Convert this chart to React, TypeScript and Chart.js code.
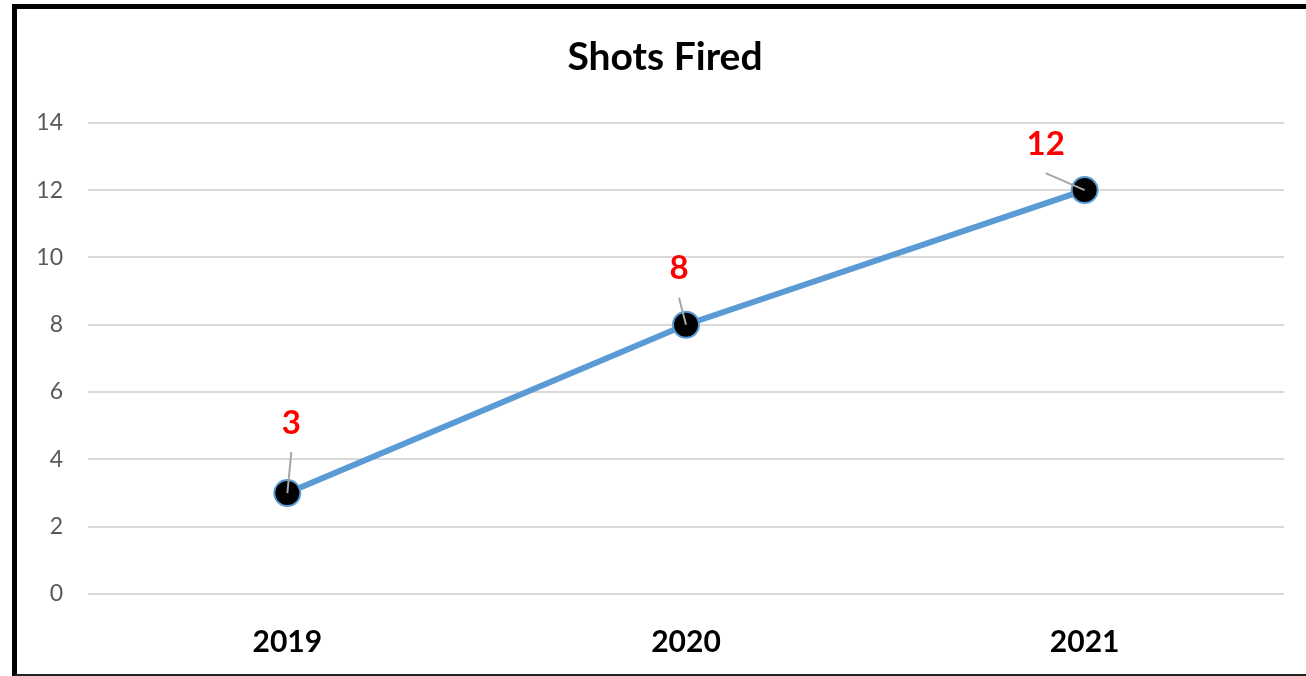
import React, { useEffect, useRef } from "react";
import { Chart, registerables } from "chart.js";

Chart.register(...registerables);

const categories = ["2019", "2020", "2021"];
const shotsFired = [3, 8, 12];
const yTicks = [0, 2, 4, 6, 8, 10, 12, 14];
const chartTitle = "Shots Fired";

// label placement relative to each point (style only)
const labelOffsets = [
  { dx: 4, dy: -70 },
  { dx: -7, dy: -56 },
  { dx: -39, dy: -46 },
];

const FONT = "Lato, 'Noto Sans', sans-serif";

const dataLabelPlugin = {
  id: "leaderLabels",
  afterDatasetsDraw(chart: any) {
    const meta = chart.getDatasetMeta(0);
    const ctx = chart.ctx;
    ctx.save();
    meta.data.forEach((pt: any, i: number) => {
      const off = labelOffsets[i];
      const lx = pt.x + off.dx;
      const ly = pt.y + off.dy;
      ctx.beginPath();
      ctx.strokeStyle = "#a6a6a6";
      ctx.lineWidth = 2;
      ctx.moveTo(lx, ly + 29);
      ctx.lineTo(pt.x, pt.y);
      ctx.stroke();
      ctx.fillStyle = "#ff0000";
      ctx.font = `bold 33px ${FONT}`;
      ctx.textAlign = "center";
      ctx.textBaseline = "middle";
      ctx.fillText(String(shotsFired[i]), lx, ly);
    });
    ctx.restore();
  },
};

export default function App() {
  const ref = useRef<HTMLCanvasElement | null>(null);

  useEffect(() => {
    if (!ref.current) return;
    const chart = new Chart(ref.current, {
      type: "line",
      data: {
        labels: categories,
        datasets: [
          {
            label: chartTitle,
            data: shotsFired,
            borderColor: "#5B9BD5",
            borderWidth: 6,
            pointRadius: 13,
            pointHoverRadius: 13,
            pointBackgroundColor: "#000000",
            pointBorderColor: "#5B9BD5",
            pointBorderWidth: 2,
            tension: 0,
            yAxisID: "y",
          },
        ],
      },
      options: {
        animation: false,
        responsive: true,
        maintainAspectRatio: false,
        layout: { padding: { left: 0, right: -24, top: 0, bottom: 0 } },
        plugins: {
          legend: { display: false },
          tooltip: { enabled: false },
          title: {
            display: true,
            text: chartTitle,
            color: "#000000",
            font: { family: FONT, size: 39, weight: "bold" },
            padding: { top: 34, bottom: 42 },
          },
        },
        scales: {
          x: {
            offset: true,
            grid: { display: false, drawTicks: false },
            border: { display: false },
            ticks: {
              color: "#000000",
              padding: 30,
              font: { family: FONT, size: 30, weight: "bold" },
            },
            afterFit: (scale: any) => {
              scale.height = 82;
            },
          },
          y: {
            min: 0,
            max: 14,
            afterBuildTicks: (scale: any) => {
              scale.ticks = yTicks.map((v) => ({ value: v }));
            },
            grid: { color: "#d9d9d9", lineWidth: 2, drawTicks: false },
            border: { display: false },
            ticks: {
              color: "#595959",
              padding: 25,
              font: { family: FONT, size: 23 },
            },
            afterFit: (scale: any) => {
              scale.width = 88;
            },
          },
          yRight: {
            type: "linear",
            position: "right",
            min: 0,
            max: 14,
            grid: { display: false, drawTicks: false },
            border: { display: false },
            ticks: { display: false },
            afterFit: (scale: any) => {
              scale.width = 46;
            },
          },
        },
      },
      plugins: [dataLabelPlugin],
    });
    return () => chart.destroy();
  }, []);

  return (
    <div>
      <div
        style={{
          position: "fixed",
          left: 0,
          top: 0,
          width: 1306,
          height: 676,
          background: "#ffffff",
        }}
      />
      <div
        style={{
          position: "fixed",
          left: 12,
          top: 4,
          width: 1400,
          height: 672,
          boxSizing: "border-box",
          borderLeft: "5px solid #000",
          borderTop: "5px solid #000",
          borderBottom: "2px solid #222",
        }}
      />
      <div style={{ position: "fixed", left: 0, top: 0, width: 1306, height: 676 }}>
        <canvas ref={ref} />
      </div>
    </div>
  );
}
